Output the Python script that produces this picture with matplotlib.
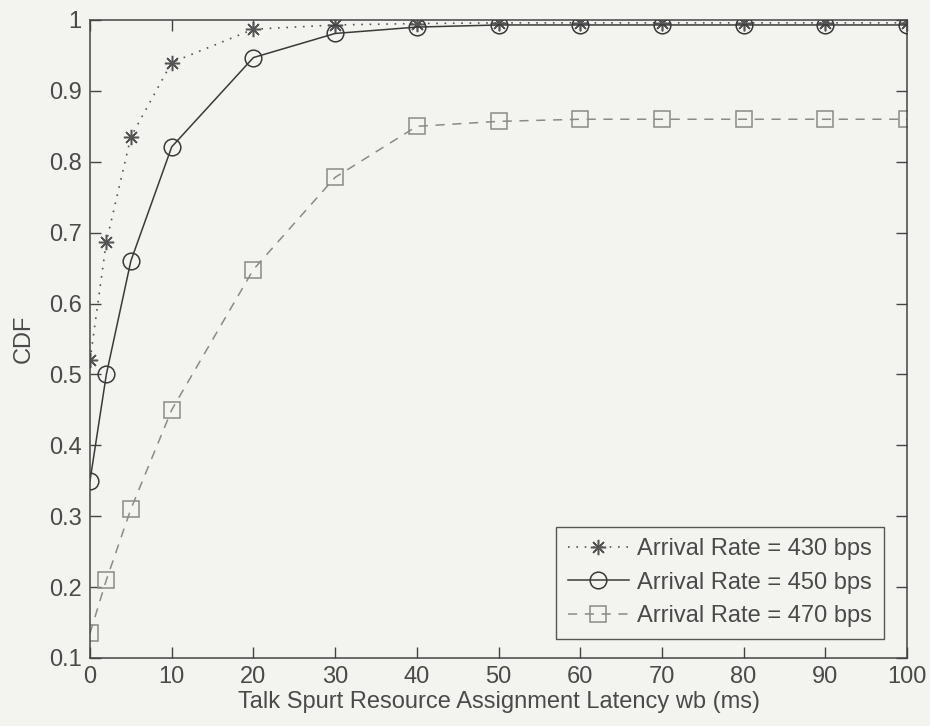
import matplotlib
matplotlib.use("Agg")
import matplotlib.pyplot as plt

# Latency values (ms) and CDF for each arrival rate
latency = [0, 2, 5, 10, 20, 30, 40, 50, 60, 70, 80, 90, 100]
cdf_430 = [0.52, 0.687, 0.835, 0.94, 0.987, 0.993, 0.995, 0.996, 0.996, 0.996, 0.996, 0.996, 0.996]
cdf_450 = [0.35, 0.50, 0.66, 0.821, 0.947, 0.981, 0.990, 0.993, 0.993, 0.993, 0.993, 0.993, 0.993]
cdf_470 = [0.135, 0.21, 0.31, 0.45, 0.648, 0.778, 0.85, 0.857, 0.86, 0.86, 0.86, 0.86, 0.86]
labels = ["Arrival Rate = 430 bps", "Arrival Rate = 450 bps", "Arrival Rate = 470 bps"]

x_ticks = list(range(0, 101, 10))
y_ticks = [0.1, 0.2, 0.3, 0.4, 0.5, 0.6, 0.7, 0.8, 0.9, 1.0]
y_ticklabels = ["0.1", "0.2", "0.3", "0.4", "0.5", "0.6", "0.7", "0.8", "0.9", "1"]

bg = "#f3f3f0"
text_c = "#4a4a4a"
plt.rcParams["font.family"] = ["Liberation Sans", "DejaVu Sans"]

fig = plt.figure(figsize=(9.3, 7.26), dpi=100, facecolor=bg)
ax = fig.add_axes([90 / 930, 1 - 658 / 726, (907 - 90) / 930, (658 - 20) / 726])
ax.set_facecolor(bg)

ax.plot(latency, cdf_430, linestyle=(0, (1, 4)), color="#555555", lw=1.2,
        marker=(8, 2, 0), markersize=11, markeredgewidth=1.1, label=labels[0])
ax.plot(latency, cdf_450, linestyle="-", color="#3a3a3a", lw=1.1,
        marker="o", markersize=12, markerfacecolor="none", markeredgewidth=1.1, label=labels[1])
ax.plot(latency, cdf_470, linestyle=(0, (6, 5)), color="#8a8a8a", lw=1.1,
        marker="s", markersize=11, markerfacecolor="none", markeredgewidth=1.1, label=labels[2])

ax.set_xlim(0, 100)
ax.set_ylim(0.1, 1.0)
ax.set_xticks(x_ticks)
ax.set_yticks(y_ticks)
ax.set_yticklabels(y_ticklabels)
ax.tick_params(direction="in", length=8, width=1, colors="#444444", labelcolor=text_c,
               labelsize=17, top=True, right=True, pad=6)
for s in ax.spines.values():
    s.set_color("#444444")
    s.set_linewidth(1.1)

ax.set_xlabel("Talk Spurt Resource Assignment Latency wb (ms)", fontsize=17, color=text_c, labelpad=2)
ax.set_ylabel("CDF", fontsize=17, color=text_c, labelpad=10)

leg = ax.legend(loc="lower right", fontsize=17, frameon=True, fancybox=False,
                edgecolor="#555555", facecolor=bg, framealpha=1, handlelength=2.6,
                handletextpad=0.35, borderpad=0.5, labelspacing=0.48,
                borderaxespad=0, bbox_to_anchor=(0.972, 0.03))
leg.get_frame().set_linewidth(1.0)
for t in leg.get_texts():
    t.set_color(text_c)

fig.savefig("out.png", dpi=100, facecolor=bg)
